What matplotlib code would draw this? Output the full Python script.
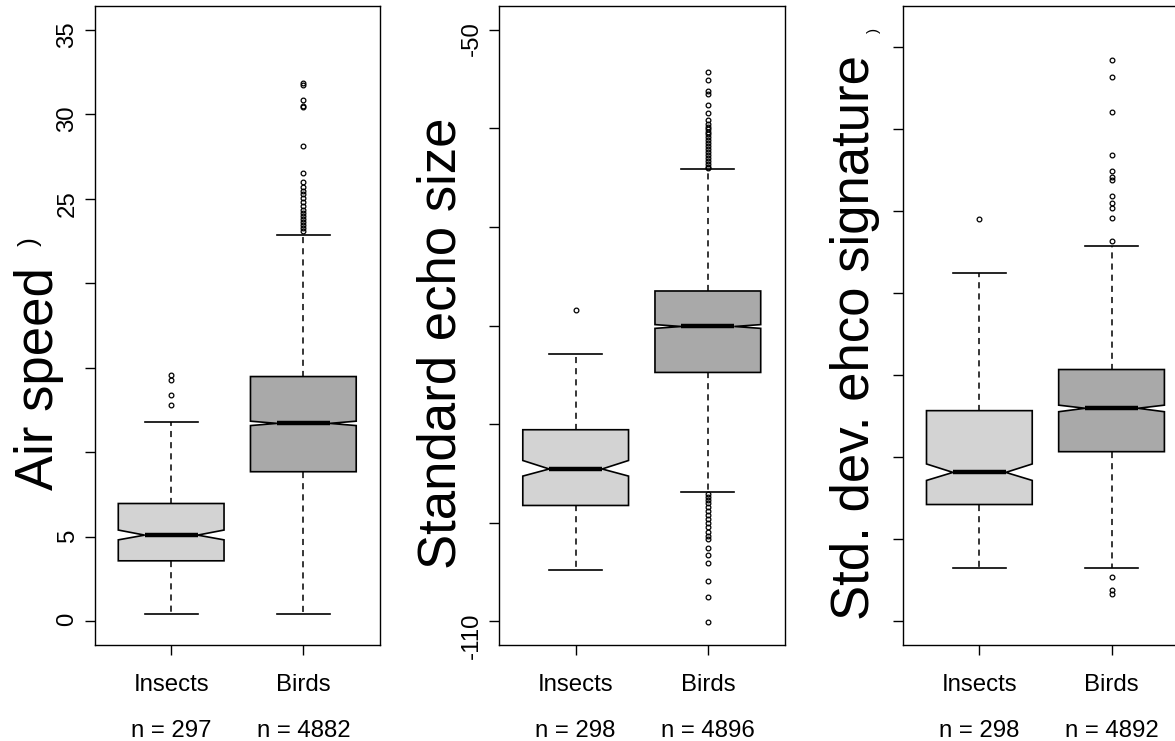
import matplotlib
matplotlib.use("Agg")
import matplotlib.pyplot as plt
from matplotlib.transforms import blended_transform_factory

plt.rcParams['font.family'] = ['Liberation Sans', 'DejaVu Sans']

groups = ["Insects", "Birds"]
box_colors = ["#D3D3D3", "#A9A9A9"]

# Air speed
air_n = [297, 4882]
air_q1 = [3.58, 8.85]
air_med = [5.10, 11.71]
air_q3 = [6.97, 14.48]
air_ci = [(4.82, 5.40), (11.58, 11.84)]
air_whis = [(0.45, 11.79), (0.45, 22.88)]
air_fliers = [
    [12.80, 13.41, 14.28, 14.56],
    [23.10, 23.24, 23.44, 23.60, 23.80, 24.00, 24.17, 24.36, 24.56, 24.78,
     25.06, 25.29, 25.48, 25.68, 26.01, 26.55, 28.14, 30.41, 30.50, 30.83,
     31.70, 31.85],
]
air_ticks = [0, 5, 10, 15, 20, 25, 30, 35]
air_ticklabels = ["0", "5", "", "", "", "25", "30", "35"]

# Standard echo size
echo_n = [298, 4896]
echo_q1 = [-98.25, -84.76]
echo_med = [-94.55, -80.10]
echo_q3 = [-90.57, -76.50]
echo_ci = [(-95.27, -93.69), (-80.29, -79.91)]
echo_whis = [(-104.78, -82.89), (-96.85, -64.16)]
echo_fliers = [
    [-78.42],
    [-54.27, -55.12, -56.20, -56.54, -57.63, -58.40, -59.19, -59.52, -59.83,
     -60.10, -60.38, -60.60, -60.90, -61.20, -61.50, -61.80, -62.10, -62.40,
     -62.70, -63.00, -63.30, -63.60, -63.90, -64.00,
     -97.10, -97.40, -97.70, -98.00, -98.40, -98.80, -99.20, -99.60, -100.00,
     -100.40, -100.90, -101.30, -101.70, -102.60, -103.30, -104.10, -105.90,
     -107.50, -110.10],
]
echo_ticks = [-110, -100, -90, -80, -70, -60, -50]
echo_ticklabels = ["-110", "", "", "", "", "", "-50"]

# Std. dev. of echo signature (tick labels hidden in the original)
sig_n = [298, 4892]
sig_q1 = [1.417, 2.062]
sig_med = [1.809, 2.592]
sig_q3 = [2.563, 3.065]
sig_ci = [(1.711, 1.912), (2.55, 2.63)]
sig_whis = [(0.645, 4.245), (0.645, 4.579)]
sig_fliers = [
    [4.908],
    [4.64, 4.91, 5.04, 5.10, 5.18, 5.38, 5.41, 5.49, 5.69, 6.21, 6.64, 6.84,
     0.53, 0.37, 0.33],
]
sig_ticks = [0, 1, 2, 3, 4, 5, 6, 7]
sig_ticklabels = [""] * 8

W, H = 1175, 741


def make_stats(q1, med, q3, ci, whis, fliers):
    """Статистики для bxp"""
    stats = []
    for i in range(len(q1)):
        stats.append(dict(q1=q1[i], med=med[i], q3=q3[i],
                          cilo=ci[i][0], cihi=ci[i][1],
                          whislo=whis[i][0], whishi=whis[i][1],
                          fliers=fliers[i]))
    return stats


def draw_panel(fig, left_px, stats, ylim, ticks, ticklabels, counts):
    ax = fig.add_axes([left_px / W, (H - 645) / H, 285.5 / W, 639 / H])
    res = ax.bxp(stats, positions=[1, 2], widths=0.8, shownotches=True,
                 patch_artist=True,
                 boxprops=dict(edgecolor="black", linewidth=1.2),
                 medianprops=dict(color="black", linewidth=3.2),
                 whiskerprops=dict(color="black", linewidth=1.1,
                                   linestyle=(0, (4, 3.3))),
                 capprops=dict(color="black", linewidth=1.2),
                 flierprops=dict(marker="o", markersize=3.4,
                                 markerfacecolor="none",
                                 markeredgecolor="black",
                                 markeredgewidth=0.9))
    for patch, c in zip(res["boxes"], box_colors):
        patch.set_facecolor(c)

    ax.set_xlim(0.42, 2.58)
    ax.set_ylim(*ylim)
    ax.set_yticks(ticks, ticklabels)
    ax.set_xticks([1, 2], groups)
    ax.tick_params(axis="y", labelrotation=90, length=7.2, width=1,
                   pad=4.3, labelsize=17.3)
    ax.tick_params(axis="x", length=7.2, width=1, pad=13.5, labelsize=17.3)
    for sp in ax.spines.values():
        sp.set_linewidth(1.0)

    trans = blended_transform_factory(ax.transData, fig.transFigure)
    for pos, n in zip([1, 2], counts):
        ax.text(pos, (H - 737) / H, f"n = {n}", transform=trans,
                ha="center", va="baseline", fontsize=17.3)
    return ax


def ylabel(fig, x_px, y_px, text):
    fig.text(x_px / W, (H - y_px) / H, text, rotation=90,
             rotation_mode="anchor", ha="center", va="baseline",
             fontsize=38)


def main():
    fig = plt.figure(figsize=(W / 100, H / 100), dpi=100)

    draw_panel(fig, 94.5,
               make_stats(air_q1, air_med, air_q3, air_ci, air_whis, air_fliers),
               (-1.4, 36.4), air_ticks, air_ticklabels, air_n)
    draw_panel(fig, 499,
               make_stats(echo_q1, echo_med, echo_q3, echo_ci, echo_whis, echo_fliers),
               (-112.4, -47.6), echo_ticks, echo_ticklabels, echo_n)
    draw_panel(fig, 902.7,
               make_stats(sig_q1, sig_med, sig_q3, sig_ci, sig_whis, sig_fliers),
               (-0.298, 7.503), sig_ticks, sig_ticklabels, sig_n)

    ylabel(fig, 53, 379, "Air speed")
    ylabel(fig, 456, 343, "Standard echo size")
    ylabel(fig, 869, 338, "Std. dev. ehco signature")

    # залишки дужок від одиниць виміру
    fig.text(30 / W, (H - 242) / H, ")", rotation=90, ha="center",
             va="center", fontsize=19)
    fig.text(874 / W, (H - 30) / H, ")", rotation=90, ha="center",
             va="center", fontsize=11)

    fig.savefig("out.png", dpi=100)


if __name__ == "__main__":
    main()
